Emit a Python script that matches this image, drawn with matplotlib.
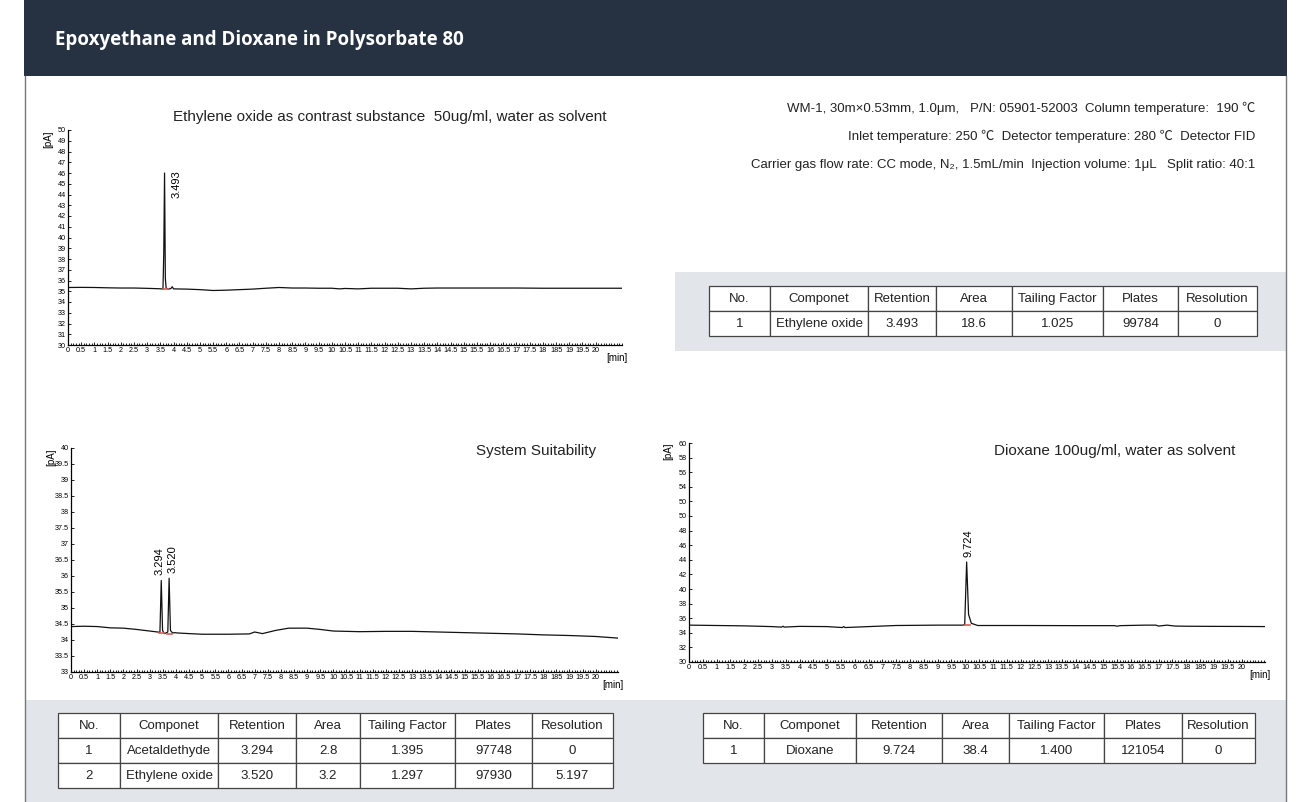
import matplotlib
matplotlib.use("Agg")
import matplotlib.pyplot as plt
from matplotlib.patches import Rectangle
from matplotlib.ticker import MultipleLocator

W, H = 1306, 802

title = "Epoxyethane and Dioxane in Polysorbate 80"
cond_lines = [
    "WM-1, 30m×0.53mm, 1.0μm,   P/N: 05901-52003  Column temperature:  190 ℃",
    "Inlet temperature: 250 ℃  Detector temperature: 280 ℃  Detector FID",
    "Carrier gas flow rate: CC mode, N₂, 1.5mL/min  Injection volume: 1μL   Split ratio: 40:1",
]

# x tick labels as printed on the chromatograms (0 .. 20 every 0.5)
x_ticks = [i * 0.5 for i in range(41)]
x_labels = ["0", "0.5", "1", "1.5", "2", "2.5", "3", "3.5", "4", "4.5", "5", "5.5",
            "6", "6.5", "7", "7.5", "8", "8.5", "9", "9.5", "10", "10.5", "11", "11.5",
            "12", "12.5", "13", "13.5", "14", "14.5", "15", "15.5", "16", "16.5", "17",
            "17.5", "18", "185", "19", "19.5", "20"]

# chromatogram 1: ethylene oxide reference
eo_t = [0, 0.5, 1, 1.5, 2, 2.5, 3, 3.5, 3.6, 3.63, 3.66, 3.69, 3.72, 3.8, 3.9, 3.95,
        4.0, 4.5, 5, 5.5, 6, 6.5, 7, 7.5, 8, 8.5, 9, 9.5, 10, 10.3, 10.5, 11, 11.5,
        12, 12.5, 13, 13.5, 14, 15, 16, 17, 18, 19, 20, 21]
eo_y = [35.35, 35.36, 35.35, 35.32, 35.3, 35.3, 35.27, 35.23, 35.2, 38.5, 46.0, 36.2,
        35.3, 35.2, 35.25, 35.42, 35.22, 35.2, 35.15, 35.07, 35.1, 35.15, 35.2, 35.28,
        35.35, 35.3, 35.3, 35.28, 35.28, 35.22, 35.26, 35.22, 35.28, 35.28, 35.28,
        35.22, 35.28, 35.3, 35.3, 35.3, 35.3, 35.28, 35.28, 35.28, 35.28]
# (apex position, apex height, base level, label, label shift)
eo_peaks = [(3.66, 46.0, 35.2, "3.493", 0.45)]

# chromatogram 2: system suitability
ss_t = [0, 0.5, 1, 1.5, 2, 2.5, 3, 3.3, 3.39, 3.44, 3.49, 3.55, 3.62, 3.69, 3.74, 3.79,
        3.87, 3.95, 4.05, 4.5, 5, 6, 6.8, 7.0, 7.3, 7.8, 8.3, 9, 9.5, 10, 11, 12, 13, 14,
        15, 16, 17, 18, 19, 20, 21]
ss_y = [34.42, 34.43, 34.42, 34.38, 34.37, 34.33, 34.28, 34.25, 34.24, 35.86, 34.3,
        34.2, 34.22, 34.25, 35.93, 34.3, 34.22, 34.23, 34.22, 34.2, 34.18, 34.18, 34.19,
        34.25, 34.2, 34.3, 34.37, 34.37, 34.33, 34.28, 34.26, 34.27, 34.27, 34.25, 34.23,
        34.21, 34.19, 34.16, 34.14, 34.11, 34.05]
ss_peaks = [(3.44, 35.86, 34.22, "3.294", -0.08), (3.74, 35.93, 34.2, "3.520", 0.12)]

# chromatogram 3: dioxane reference
dx_t = [0, 1, 2, 3, 3.35, 3.4, 3.45, 4, 5, 5.55, 5.6, 5.65, 6.5, 7.5, 9, 9.9, 9.98,
        10.05, 10.12, 10.22, 10.45, 12, 14, 15.4, 15.5, 15.6, 16.5, 16.9, 17, 17.3,
        17.6, 18, 19, 20, 21]
dx_y = [35.05, 35.0, 34.95, 34.85, 34.78, 34.9, 34.78, 34.88, 34.85, 34.72, 34.85,
        34.72, 34.85, 35.0, 35.05, 35.05, 35.1, 43.7, 36.5, 35.3, 35.0, 35.0, 34.98,
        34.98, 34.9, 34.98, 35.05, 35.05, 34.92, 35.05, 34.92, 34.9, 34.88, 34.87, 34.85]
dx_peaks = [(10.05, 43.7, 35.05, "9.724", 0.06)]

tbl_cols = ["No.", "Componet", "Retention", "Area", "Tailing Factor", "Plates", "Resolution"]
eo_rows = [["1", "Ethylene oxide", "3.493", "18.6", "1.025", "99784", "0"]]
ss_rows = [["1", "Acetaldethyde", "3.294", "2.8", "1.395", "97748", "0"],
           ["2", "Ethylene oxide", "3.520", "3.2", "1.297", "97930", "5.197"]]
dx_rows = [["1", "Dioxane", "9.724", "38.4", "1.400", "121054", "0"]]

SANS = ["Liberation Sans", "Noto Sans CJK SC", "DejaVu Sans"]

fig = plt.figure(figsize=(W / 100, H / 100), dpi=100)
bg = fig.add_axes([0, 0, 1, 1])
bg.set_xlim(0, W)
bg.set_ylim(H, 0)
bg.axis("off")

# page frame, header and grey table panels
bg.add_patch(Rectangle((24, 0), 1263, 76, color="#263241", lw=0))
bg.plot([25, 25], [76, H], color="#777777", lw=1)
bg.plot([1286, 1286], [76, H], color="#777777", lw=1)
bg.add_patch(Rectangle((675, 272), 611, 79, color="#e2e5e9", lw=0))
bg.add_patch(Rectangle((26, 700), 1260, 102, color="#e2e5e9", lw=0))
bg.text(55, 40, title, color="white", fontsize=13.5, fontweight="bold",
        family=["Open Sans", "DejaVu Sans"], va="center", ha="left")

for i, line in enumerate(cond_lines):
    bg.text(1255, 108 + i * 28.5, line, fontsize=9.5, family=SANS,
            ha="right", va="center", color="#222222")


def draw_table(edges, top, row_h, rows):
    for r, row in enumerate([tbl_cols] + rows):
        y0 = top + r * row_h
        for c, val in enumerate(row):
            x0, x1 = edges[c], edges[c + 1]
            bg.add_patch(Rectangle((x0, y0), x1 - x0, row_h, facecolor="white",
                                   edgecolor="#444444", lw=0.9))
            bg.text((x0 + x1) / 2, y0 + row_h / 2 + 0.5, val, fontsize=9.5,
                    family=SANS, ha="center", va="center", color="#222222")


draw_table([709, 770, 868, 936, 1012, 1103, 1178, 1257], 286, 25, eo_rows)
draw_table([58, 120, 218, 296, 360, 455, 532, 613], 713, 25, ss_rows)
draw_table([703, 764, 856, 942, 1009, 1104, 1182, 1255], 713, 25, dx_rows)


def add_chart(box, t, y, peaks, ylim, ystep, xmax, name, name_xy, name_ha,
              label_side=False, ylabels=None):
    x0, y0, x1, y1 = box
    ax = fig.add_axes([x0 / W, 1 - y1 / H, (x1 - x0) / W, (y1 - y0) / H])
    ax.patch.set_alpha(0)
    ax.plot(t, y, color="#111111", lw=0.9)
    span = ylim[1] - ylim[0]
    for px, py, base, lab, shift in peaks:
        ax.plot([px - 0.07, px + 0.12], [base, base], color="#e05a5a", lw=1.2)
        if label_side:
            ax.text(px + shift, py + span * 0.015, lab, rotation=90, fontsize=8,
                    family=SANS, ha="center", va="top")
        else:
            ax.text(px + shift, py + span * 0.025, lab, rotation=90,
                    fontsize=8, family=SANS, ha="center", va="bottom")
    ax.set_xlim(0, xmax)
    ax.set_ylim(*ylim)
    ax.set_xticks(x_ticks)
    ax.set_xticklabels(x_labels, fontsize=5.2, family=SANS)
    ax.xaxis.set_minor_locator(MultipleLocator(0.1))
    yt = []
    v = ylim[0]
    while v <= ylim[1] + 1e-9:
        yt.append(v)
        v += ystep
    ax.set_yticks(yt)
    if ylabels is None:
        ylabels = ["%g" % v for v in yt]
    ax.set_yticklabels(ylabels, fontsize=5.2, family=SANS)
    ax.tick_params(axis="both", which="major", direction="in", length=2.5,
                   width=0.6, pad=1.5)
    ax.tick_params(axis="x", which="minor", direction="in", length=1.5, width=0.6)
    for s in ("top", "right"):
        ax.spines[s].set_visible(False)
    for s in ("left", "bottom"):
        ax.spines[s].set_linewidth(0.9)
    ax.text(-0.036, 1.0, "[pA]", transform=ax.transAxes, rotation=90,
            fontsize=7, family=SANS, ha="center", va="top")
    ax.text(1.01, -0.06, "[min]", transform=ax.transAxes, fontsize=7,
            family=SANS, ha="right", va="center")
    bg.text(name_xy[0], name_xy[1], name, fontsize=11, family=SANS,
            ha=name_ha, va="center", color="#222222")
    return ax


add_chart((68, 130, 622, 345), eo_t, eo_y, eo_peaks, (30, 50), 1, 21,
          "Ethylene oxide as contrast substance  50ug/ml, water as solvent",
          (390, 117), "center", label_side=True)
add_chart((71, 448, 618, 672), ss_t, ss_y, ss_peaks, (33, 40), 0.5, 20.85,
          "System Suitability", (596, 451), "right")
dx_ylabels = ["30", "32", "34", "36", "38", "40", "42", "44", "46", "48", "50",
              "50", "54", "56", "58", "60"]
add_chart((689, 443, 1265, 662), dx_t, dx_y, dx_peaks, (30, 60), 2, 20.85,
          "Dioxane 100ug/ml, water as solvent", (1235, 451), "right",
          ylabels=dx_ylabels)

fig.savefig("out.png", dpi=100)
